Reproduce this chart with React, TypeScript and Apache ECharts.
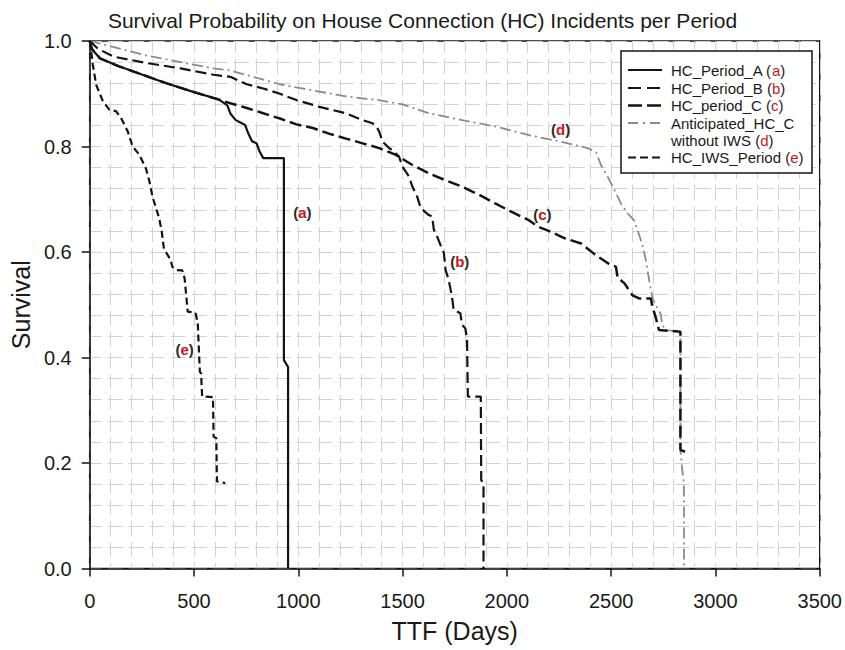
import React, { useEffect, useRef } from 'react';
import * as echarts from 'echarts';

const titleText = 'Survival Probability on House Connection (HC) Incidents per Period';
const xAxisName = 'TTF (Days)';
const yAxisName = 'Survival';
const xMin = 0;
const xMax = 3500;
const xStep = 500;
const yMin = 0;
const yMax = 1;
const yStep = 0.2;

const periodA: number[][] = [
  [0, 1.0], [10, 0.985], [50, 0.967], [140, 0.952], [240, 0.938], [360, 0.921], [500, 0.903],
  [620, 0.889], [660, 0.878], [675, 0.862], [700, 0.85], [720, 0.846], [745, 0.841], [760, 0.825],
  [778, 0.81], [800, 0.806], [815, 0.79], [832, 0.778], [931, 0.778], [931, 0.395], [951, 0.382], [951, 0],
];

const periodB: number[][] = [
  [0, 1.0], [40, 0.985], [118, 0.97], [277, 0.958], [436, 0.948], [594, 0.936], [674, 0.932],
  [753, 0.918], [832, 0.91], [912, 0.9], [991, 0.888], [1070, 0.879], [1102, 0.875], [1166, 0.869],
  [1229, 0.863], [1277, 0.855], [1309, 0.85], [1356, 0.844], [1375, 0.838], [1388, 0.828],
  [1404, 0.809], [1436, 0.797], [1451, 0.793], [1483, 0.781], [1499, 0.762], [1531, 0.743],
  [1547, 0.724], [1570, 0.705], [1587, 0.683], [1626, 0.67], [1642, 0.667], [1650, 0.642],
  [1666, 0.629], [1682, 0.613], [1698, 0.598], [1706, 0.566], [1721, 0.547], [1737, 0.515],
  [1745, 0.49], [1777, 0.484], [1785, 0.462], [1801, 0.455], [1809, 0.433], [1813, 0.326],
  [1875, 0.326], [1877, 0.168], [1888, 0.16], [1888, 0],
];

const periodC: number[][] = [
  [0, 1.0], [10, 0.985], [50, 0.967], [140, 0.952], [240, 0.938], [360, 0.921], [500, 0.903],
  [626, 0.888], [674, 0.882], [753, 0.873], [832, 0.863], [912, 0.853], [991, 0.842], [1070, 0.835],
  [1150, 0.824], [1229, 0.815], [1309, 0.806], [1388, 0.797], [1468, 0.784], [1547, 0.765],
  [1626, 0.749], [1706, 0.736], [1785, 0.724], [1864, 0.709], [1944, 0.692], [2023, 0.676],
  [2102, 0.661], [2150, 0.648], [2213, 0.638], [2277, 0.626], [2356, 0.616], [2420, 0.596],
  [2483, 0.579], [2523, 0.572], [2531, 0.551], [2563, 0.541], [2602, 0.518], [2634, 0.512],
  [2690, 0.512], [2698, 0.496], [2713, 0.477], [2721, 0.465], [2729, 0.452], [2832, 0.449],
  [2832, 0.225], [2856, 0.221],
];

const anticipatedD: number[][] = [
  [0, 1.0], [277, 0.972], [594, 0.948], [674, 0.944], [912, 0.918], [991, 0.912], [1229, 0.895],
  [1309, 0.891], [1388, 0.888], [1468, 0.882], [1499, 0.88], [1626, 0.863], [1785, 0.85],
  [1944, 0.838], [2102, 0.822], [2150, 0.818], [2261, 0.809], [2293, 0.806], [2388, 0.797],
  [2428, 0.789], [2451, 0.765], [2483, 0.743], [2515, 0.718], [2547, 0.692], [2579, 0.673],
  [2610, 0.66], [2626, 0.642], [2650, 0.613], [2666, 0.585], [2682, 0.547], [2698, 0.512],
  [2721, 0.494], [2737, 0.483], [2745, 0.462], [2760, 0.452], [2832, 0.449], [2832, 0.225],
  [2840, 0.19], [2849, 0.16], [2849, 0],
];

const iwsE: number[][] = [
  [0, 1.0], [2, 0.996], [15, 0.955], [31, 0.917], [63, 0.886], [94, 0.87], [126, 0.867],
  [150, 0.854], [182, 0.829], [206, 0.8], [237, 0.785], [269, 0.759], [285, 0.736], [301, 0.705],
  [333, 0.664], [345, 0.64], [356, 0.606], [388, 0.585], [396, 0.572], [412, 0.566], [444, 0.565],
  [455, 0.55], [470, 0.487], [507, 0.485], [518, 0.465], [528, 0.373], [534, 0.37], [539, 0.326],
  [591, 0.325], [594, 0.25], [607, 0.247], [610, 0.165], [650, 0.162],
];

const curveLabelX = [1020, 1774, 2170, 2258, 455];
const curveLabelY = [0.675, 0.582, 0.671, 0.833, 0.416];
const curveLabelLetters = ['a', 'b', 'c', 'd', 'e'];

const legendNames = ['HC_Period_A', 'HC_Period_B', 'HC_period_C', 'Anticipated_HC_C', 'HC_IWS_Period'];
const legendLetters = ['a', 'b', 'c', 'd', 'e'];
const legendSecondLine = 'without IWS';

const FONT = '"Liberation Sans", Arial, Helvetica, sans-serif';
const BLACK = '#141414';
const GRAY = '#8c8c8c';
const RED = '#c8161d';

const styles: any[] = [
  { color: BLACK, width: 2.2, type: 'solid', legendType: null },
  { color: BLACK, width: 2.2, type: [11, 5], legendType: [13, 6] },
  { color: BLACK, width: 2.5, type: [12, 5], legendType: [14, 5] },
  { color: GRAY, width: 1.8, type: [11, 4, 2, 4], legendType: [10, 5, 2, 5] },
  { color: BLACK, width: 2.2, type: [7, 4], legendType: [8, 4] },
];

const seriesData = [periodA, periodB, periodC, anticipatedD, iwsE];

export default function App() {
  const ref = useRef<HTMLDivElement>(null);

  useEffect(() => {
    if (!ref.current) return;
    const chart = echarts.init(ref.current, undefined, { renderer: 'svg' });

    const gridLine = { show: true, lineStyle: { color: '#d2d2d2', width: 1, type: [15, 6], dashOffset: 3 } };

    const lineSeries = seriesData.map((d, i) => ({
      type: 'line',
      name: legendNames[i],
      data: d,
      symbol: 'none',
      showSymbol: false,
      silent: true,
      z: i === 3 ? 2 : 3,
      lineStyle: { color: styles[i].color, width: styles[i].width, type: styles[i].type },
    }));

    const rich = {
      n: { fontFamily: FONT, fontSize: 15, fill: '#1a1a1a' },
      r: { fontFamily: FONT, fontSize: 15, fill: RED },
    };
    const richBold = {
      p: { fontFamily: FONT, fontSize: 15, fontWeight: 'bold', fill: '#2a2a2a' },
      r: { fontFamily: FONT, fontSize: 15, fontWeight: 'bold', fill: RED },
    };

    // Legend box
    const lx = 621, ly = 51, lw = 191, lh = 122;
    const rowsY = [70, 88, 105.5, 123, 157.5];
    const legendChildren: any[] = [
      { type: 'rect', shape: { x: lx, y: ly, width: lw, height: lh }, style: { fill: '#fff', stroke: BLACK, lineWidth: 1.5 }, z: 100 },
    ];
    legendNames.forEach((n, i) => {
      const y = rowsY[i];
      legendChildren.push({
        type: 'line',
        shape: { x1: 628, y1: y, x2: 662, y2: y },
        style: { stroke: styles[i].color, lineWidth: styles[i].width, lineDash: styles[i].legendType },
        z: 101,
      });
      const txt = i === 3 ? `{n|${n}}` : `{n|${n} (}{r|${legendLetters[i]}}{n|)}`;
      legendChildren.push({
        type: 'text',
        x: 671,
        y,
        style: { text: txt, verticalAlign: 'middle', rich },
        z: 101,
      });
      if (i === 3) {
        legendChildren.push({
          type: 'text',
          x: 671,
          y: 140,
          style: { text: `{n|${legendSecondLine} (}{r|${legendLetters[i]}}{n|)}`, verticalAlign: 'middle', rich },
          z: 101,
        });
      }
    });

    chart.setOption({
      animation: false,
      backgroundColor: '#fff',
      title: {
        text: titleText,
        left: 'center',
        top: 5,
        textStyle: { fontFamily: FONT, fontSize: 21, fontWeight: 'normal', color: '#1a1a1a' },
      },
      grid: {
        left: 88.5,
        right: 21.5,
        top: 41,
        bottom: 81.5,
        show: true,
        borderColor: BLACK,
        borderWidth: 1.5,
        backgroundColor: 'transparent',
      },
      xAxis: {
        type: 'value',
        min: xMin,
        max: xMax,
        interval: xStep,
        name: xAxisName,
        nameLocation: 'middle',
        nameGap: 50,
        nameTextStyle: { fontFamily: FONT, fontSize: 25, color: '#1a1a1a' },
        axisLine: { show: true, lineStyle: { color: BLACK, width: 1.5 } },
        axisTick: { show: true, inside: false, length: 8, lineStyle: { color: BLACK, width: 1.5 } },
        axisLabel: { fontFamily: FONT, fontSize: 20, color: '#1a1a1a', margin: 22, formatter: (v: number) => String(v) },
        splitLine: gridLine,
        minorTick: { show: false, splitNumber: 5 },
        minorSplitLine: gridLine,
      },
      yAxis: {
        type: 'value',
        min: yMin,
        max: yMax,
        interval: yStep,
        name: yAxisName,
        nameLocation: 'middle',
        nameRotate: 90,
        nameGap: 52,
        nameTextStyle: { fontFamily: FONT, fontSize: 25, color: '#1a1a1a' },
        axisLine: { show: true, lineStyle: { color: BLACK, width: 1.5 } },
        axisTick: { show: true, inside: false, length: 8, lineStyle: { color: BLACK, width: 1.5 } },
        axisLabel: { fontFamily: FONT, fontSize: 20, color: '#1a1a1a', margin: 18, formatter: (v: number) => v.toFixed(1) },
        splitLine: gridLine,
        minorTick: { show: false, splitNumber: 5 },
        minorSplitLine: gridLine,
      },
      series: lineSeries,
    });

    const labelTexts = curveLabelX.map((x, i) => {
      const pt = chart.convertToPixel({ gridIndex: 0 }, [x, curveLabelY[i]]) as number[];
      return {
        type: 'text',
        id: 'lbl' + i,
        x: pt[0],
        y: pt[1],
        z: 50,
        style: {
          text: `{p|(}{r|${curveLabelLetters[i]}}{p|)}`,
          align: 'center',
          verticalAlign: 'middle',
          rich: richBold,
        },
      };
    });

    chart.setOption({
      graphic: [{ type: 'group', id: 'legend', children: legendChildren }, ...labelTexts],
    });

    return () => chart.dispose();
  }, []);

  return <div ref={ref} style={{ position: 'absolute', left: 0, top: 0, width: 845, height: 650 }} />;
}
